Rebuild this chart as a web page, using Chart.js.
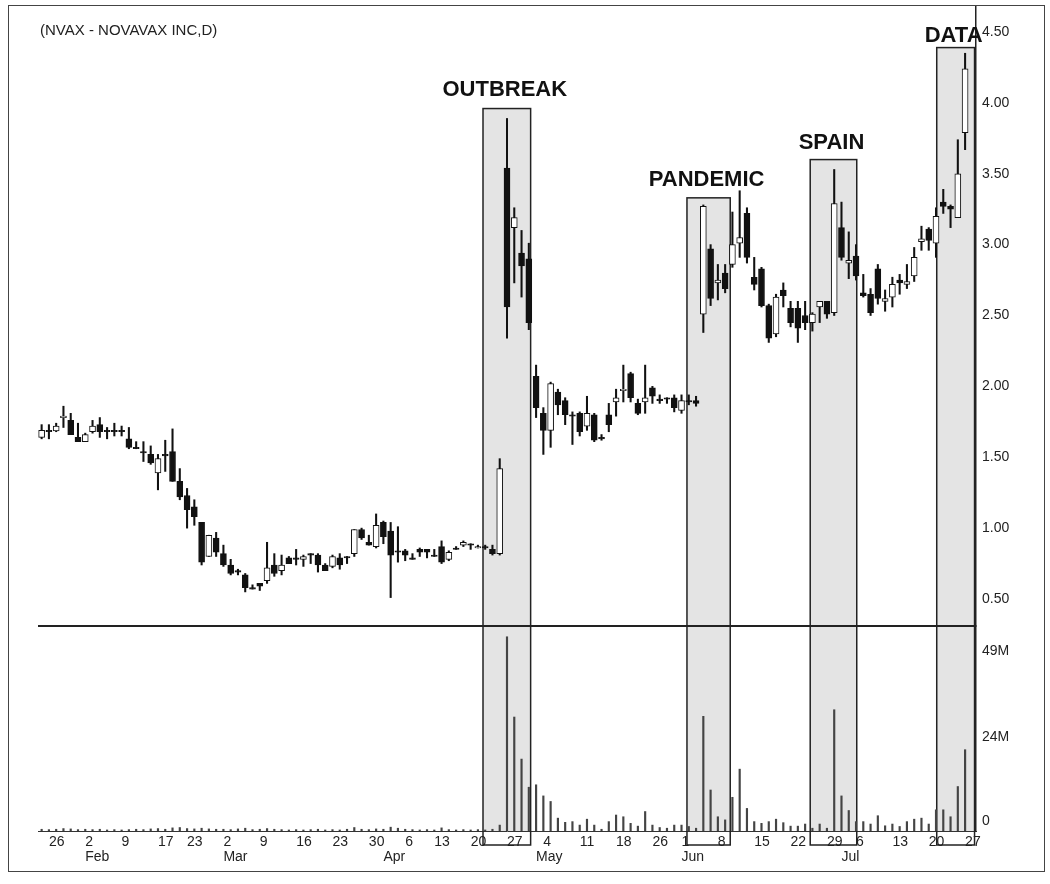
<!DOCTYPE html>
<html>
<head>
<meta charset="utf-8">
<script src="https://cdn.jsdelivr.net/npm/chart.js@4.4.0/dist/chart.umd.min.js"></script>
<style>
  html, body { margin: 0; padding: 0; background: #fff; }
  #wrap { width: 1050px; height: 884px; }
</style>
</head>
<body>
<div id="wrap"><canvas id="nvax" width="1050" height="884"></canvas></div>
<script>
const year = 2009;

// trading days shown on the chart
const dates = [
  "01-23","01-26","01-27","01-28","01-29","01-30",
  "02-02","02-03","02-04","02-05","02-06","02-09","02-10","02-11","02-12","02-13",
  "02-17","02-18","02-19","02-20","02-23","02-24","02-25","02-26","02-27",
  "03-02","03-03","03-04","03-05","03-06","03-09","03-10","03-11","03-12","03-13",
  "03-16","03-17","03-18","03-19","03-20","03-23","03-24","03-25","03-26","03-27","03-30","03-31",
  "04-01","04-02","04-03","04-06","04-07","04-08","04-09","04-13","04-14","04-15","04-16","04-17",
  "04-20","04-21","04-22","04-23","04-24","04-27","04-28","04-29","04-30",
  "05-01","05-04","05-05","05-06","05-07","05-08","05-11","05-12","05-13","05-14","05-15",
  "05-18","05-19","05-20","05-21","05-22","05-26","05-27","05-28","05-29",
  "06-01","06-02","06-03","06-04","06-05","06-08","06-09","06-10","06-11","06-12",
  "06-15","06-16","06-17","06-18","06-19","06-22","06-23","06-24","06-25","06-26","06-29","06-30",
  "07-01","07-02","07-06","07-07","07-08","07-09","07-10","07-13","07-14","07-15","07-16","07-17",
  "07-20","07-21","07-22","07-23","07-24","07-27"
];

const open = [
  1.64,1.69,1.685,1.78,1.76,1.64,1.61,1.68,1.73,1.69,
  1.69,1.69,1.63,1.57,1.54,1.52,1.39,1.52,1.54,1.33,
  1.23,1.15,1.04,0.80,0.93,0.82,0.74,0.70,0.67,0.58,
  0.61,0.63,0.74,0.70,0.79,0.79,0.78,0.82,0.81,0.74,
  0.73,0.79,0.80,0.82,0.99,0.90,0.87,1.04,0.98,0.84,
  0.84,0.79,0.85,0.85,0.81,0.87,0.78,0.86,0.88,0.89,
  0.86,0.87,0.85,0.82,3.54,3.12,2.94,2.90,2.07,1.81,
  1.69,1.96,1.90,1.80,1.81,1.72,1.80,1.64,1.80,1.89,
  1.97,2.09,1.88,1.89,1.99,1.91,1.92,1.92,1.83,1.90,
  1.90,2.51,2.97,2.73,2.80,2.86,3.01,3.22,2.77,2.83,
  2.57,2.37,2.68,2.55,2.55,2.50,2.45,2.56,2.60,2.52,
  3.12,2.87,2.92,2.66,2.65,2.83,2.60,2.63,2.75,2.72,
  2.78,3.02,3.11,3.01,3.30,3.27,3.19,3.79
];
const high = [
  1.73,1.73,1.74,1.86,1.81,1.74,1.67,1.76,1.78,1.71,
  1.74,1.72,1.71,1.61,1.61,1.58,1.52,1.62,1.70,1.42,
  1.28,1.20,1.04,0.95,0.97,0.88,0.78,0.71,0.68,0.60,
  0.61,0.90,0.82,0.81,0.80,0.85,0.81,0.82,0.82,0.75,
  0.81,0.82,0.80,0.99,1.00,0.95,1.10,1.05,1.04,1.01,
  0.85,0.82,0.86,0.85,0.85,0.91,0.84,0.87,0.91,0.89,
  0.88,0.88,0.88,1.49,3.89,3.26,3.10,3.01,2.15,1.85,
  2.03,1.98,1.92,1.82,1.82,1.93,1.81,1.66,1.88,1.98,
  2.15,2.10,1.91,2.15,2.00,1.94,1.92,1.94,1.94,1.94,
  1.93,3.28,3.00,2.86,2.86,3.23,3.38,3.26,2.91,2.84,
  2.58,2.65,2.73,2.60,2.60,2.60,2.52,2.60,2.60,3.53,
  3.30,3.09,3.00,2.79,2.69,2.86,2.68,2.77,2.79,2.86,
  2.98,3.13,3.12,3.26,3.39,3.28,3.74,4.35
];
const low = [
  1.63,1.63,1.68,1.71,1.66,1.61,1.61,1.67,1.64,1.63,
  1.65,1.65,1.56,1.56,1.47,1.45,1.27,1.40,1.33,1.20,
  1.00,1.02,0.74,0.80,0.80,0.73,0.67,0.67,0.55,0.57,
  0.56,0.61,0.66,0.67,0.75,0.74,0.73,0.75,0.69,0.70,
  0.72,0.71,0.75,0.80,0.92,0.88,0.86,0.89,0.51,0.76,
  0.77,0.78,0.80,0.79,0.80,0.75,0.77,0.85,0.87,0.85,
  0.86,0.85,0.81,0.81,2.34,2.73,2.63,2.40,1.78,1.52,
  1.57,1.80,1.73,1.59,1.65,1.69,1.61,1.62,1.68,1.79,
  1.89,1.89,1.80,1.81,1.88,1.88,1.88,1.82,1.81,1.87,
  1.86,2.38,2.57,2.61,2.66,2.84,2.91,2.87,2.68,2.56,
  2.31,2.35,2.56,2.42,2.31,2.40,2.39,2.45,2.48,2.50,
  2.89,2.76,2.75,2.63,2.50,2.58,2.53,2.56,2.65,2.69,
  2.74,2.96,2.96,2.91,3.22,3.12,3.19,3.67
];
const close = [
  1.69,1.68,1.72,1.79,1.66,1.61,1.66,1.72,1.68,1.68,
  1.68,1.68,1.57,1.56,1.53,1.46,1.49,1.51,1.33,1.22,
  1.13,1.08,0.76,0.95,0.83,0.74,0.68,0.69,0.58,0.57,
  0.59,0.72,0.68,0.74,0.75,0.78,0.80,0.81,0.74,0.70,
  0.80,0.74,0.79,0.99,0.93,0.88,1.02,0.94,0.81,0.83,
  0.81,0.78,0.83,0.83,0.80,0.76,0.83,0.85,0.90,0.88,
  0.87,0.86,0.82,1.42,2.56,3.19,2.85,2.45,1.85,1.69,
  2.02,1.87,1.80,1.79,1.68,1.81,1.62,1.63,1.73,1.92,
  1.98,1.92,1.81,1.92,1.93,1.90,1.91,1.85,1.90,1.89,
  1.88,3.27,2.62,2.75,2.69,3.00,3.05,2.91,2.72,2.57,
  2.34,2.63,2.64,2.45,2.41,2.45,2.51,2.60,2.51,3.29,
  2.91,2.89,2.78,2.64,2.52,2.62,2.62,2.72,2.73,2.74,
  2.91,3.04,3.03,3.20,3.27,3.25,3.50,4.24
];
// volume in millions of shares
const volume = [
  0.5,0.4,0.5,0.7,0.6,0.4,0.5,0.4,0.5,0.3,
  0.4,0.3,0.4,0.5,0.4,0.6,0.7,0.5,0.9,1.0,
  0.7,0.6,0.8,0.6,0.5,0.5,0.4,0.6,0.8,0.4,
  0.5,0.7,0.5,0.4,0.3,0.4,0.3,0.4,0.5,0.3,
  0.4,0.3,0.5,1.0,0.5,0.4,0.6,0.5,1.1,0.8,
  0.5,0.4,0.3,0.4,0.3,0.9,0.4,0.3,0.4,0.3,
  0.4,0.3,0.5,1.7,55.9,32.8,20.7,12.6,13.3,10.1,
  8.5,3.7,2.5,2.7,1.7,3.4,1.7,0.5,2.7,4.6,
  4.1,2.2,1.4,5.6,1.7,1.0,0.8,1.7,1.7,1.3,
  0.8,33.0,11.8,4.1,3.2,9.7,17.8,6.5,2.7,2.2,
  2.7,3.4,2.4,1.4,1.4,2.0,0.8,2.0,0.8,34.9,
  10.1,5.9,2.7,2.7,2.0,4.4,1.5,2.0,1.3,2.7,
  3.4,3.7,2.0,6.1,6.1,4.1,12.8,23.4
];

const priceTicks = [0.5, 1, 1.5, 2, 2.5, 3, 3.5, 4, 4.5];
const volumeTicks = [0, 24, 49];
const monthNames = ["Jan","Feb","Mar","Apr","May","Jun","Jul","Aug","Sep","Oct","Nov","Dec"];

// highlighted events: span in trading-day index, box top in price, caption gap in px
const events = [
  { label: "OUTBREAK", from: 60.7, to: 67.25, top: 3.96, gap: 19 },
  { label: "PANDEMIC", from: 88.75, to: 94.7, top: 3.33, gap: 18 },
  { label: "SPAIN", from: 105.7, to: 112.1, top: 3.60, gap: 17 },
  { label: "DATA", from: 123.1, to: 128.3, top: 4.39, gap: 12 }
];

const asDate = d => new Date(year + "-" + d + "T00:00:00Z");

// day number on the first trading day of each week, month name on first of month
const dayLabels = dates.map((d, i) => {
  if (i === 0) return "";
  const cur = asDate(d), prev = asDate(dates[i - 1]);
  return cur.getUTCDay() <= prev.getUTCDay() ? String(cur.getUTCDate()) : "";
});
const monthLabels = dates.map((d, i) => {
  if (i === 0) return "";
  const cur = asDate(d), prev = asDate(dates[i - 1]);
  return cur.getUTCMonth() !== prev.getUTCMonth() ? monthNames[cur.getUTCMonth()] : "";
});

const up = open.map((o, i) => close[i] >= o);

Chart.defaults.font.family = '"Liberation Sans", Arial, sans-serif';
Chart.defaults.color = "#222";

const noPad = s => { s.paddingTop = 0; s.paddingBottom = 0; s.paddingLeft = 0; s.paddingRight = 0; };

const overlay = {
  id: "overlay",
  beforeDraw(chart) {
    const { ctx, chartArea: a, scales: { x, y } } = chart;
    ctx.save();
    ctx.fillStyle = "#fff";
    ctx.fillRect(0, 0, chart.width, chart.height);
    ctx.fillStyle = "#e4e4e4";
    events.forEach(ev => {
      const l = x.getPixelForValue(ev.from), r = x.getPixelForValue(ev.to);
      const t = y.getPixelForValue(ev.top);
      ctx.fillRect(l, t, r - l, a.bottom - t);
    });
    ctx.restore();
  },
  beforeDatasetsDraw(chart) {
    const { ctx, chartArea: a, scales: { x, y } } = chart;
    ctx.save();
    ctx.strokeStyle = "#222";
    ctx.lineWidth = 1.5;
    events.forEach(ev => {
      const l = x.getPixelForValue(ev.from), r = x.getPixelForValue(ev.to);
      const t = y.getPixelForValue(ev.top);
      ctx.strokeRect(l, t, r - l, a.bottom + 14 - t);
    });
    ctx.restore();
  },
  afterDraw(chart) {
    const { ctx, chartArea: a, scales: { x, y, yv } } = chart;
    ctx.save();
    // panel separator
    ctx.strokeStyle = "#222";
    ctx.lineWidth = 2;
    ctx.beginPath();
    ctx.moveTo(a.left, yv.top);
    ctx.lineTo(a.right, yv.top);
    ctx.stroke();
    // event captions
    ctx.fillStyle = "#111";
    ctx.font = 'bold 22px "Liberation Sans", Arial, sans-serif';
    ctx.textAlign = "center";
    ctx.textBaseline = "middle";
    events.forEach(ev => {
      const cx = (x.getPixelForValue(ev.from) + x.getPixelForValue(ev.to)) / 2;
      ctx.fillText(ev.label, cx - 2, y.getPixelForValue(ev.top) - ev.gap);
    });
    // title
    ctx.font = '15px "Liberation Sans", Arial, sans-serif';
    ctx.textAlign = "left";
    ctx.fillStyle = "#222";
    ctx.fillText("(NVAX - NOVAVAX INC,D)", 40, 31);
    // frame
    ctx.strokeStyle = "#444";
    ctx.lineWidth = 1;
    ctx.strokeRect(8.5, 5.5, 1036, 866);
    ctx.restore();
  }
};

new Chart(document.getElementById("nvax"), {
  type: "bar",
  data: {
    labels: [...dates, ""],
    datasets: [
      {
        label: "body",
        data: open.map((o, i) => [o, close[i]]),
        xAxisID: "x", yAxisID: "y",
        backgroundColor: up.map(u => u ? "#fff" : "#111"),
        borderColor: "#111",
        borderWidth: 1,
        borderSkipped: false,
        barThickness: 6,
        grouped: false
      },
      {
        label: "wick",
        data: low.map((l, i) => [l, high[i]]),
        xAxisID: "x", yAxisID: "y",
        backgroundColor: "#111",
        barThickness: 1.4,
        grouped: false
      },
      {
        label: "volume",
        data: volume,
        xAxisID: "x", yAxisID: "yv",
        backgroundColor: "#444",
        barThickness: 1.5,
        grouped: false
      }
    ]
  },
  options: {
    responsive: false,
    animation: false,
    events: [],
    layout: { padding: { left: 38, top: 6, right: 0, bottom: 0 } },
    plugins: { legend: { display: false }, tooltip: { enabled: false } },
    scales: {
      x: {
        type: "category",
        offset: true,
        grid: { display: false, drawTicks: false },
        border: { display: true, color: "#333", width: 1 },
        ticks: {
          autoSkip: false, maxRotation: 0, align: "start", padding: 3,
          font: { size: 14 },
          callback: (v, i) => dayLabels[i] || ""
        },
        afterFit: s => { s.height = 18; noPad(s); }
      },
      xm: {
        type: "category",
        position: "bottom",
        offset: true,
        grid: { display: false, drawTicks: false },
        border: { display: false },
        ticks: {
          autoSkip: false, maxRotation: 0, align: "start", padding: 0,
          font: { size: 14 },
          callback: (v, i) => monthLabels[i] || ""
        },
        afterFit: s => { s.height = 35; noPad(s); }
      },
      y: {
        type: "linear",
        position: "right",
        stack: "panels",
        stackWeight: 620,
        min: 0.3095,
        max: 4.6834,
        grid: { display: false, drawTicks: false },
        border: { display: true, color: "#222", width: 1.5 },
        ticks: { padding: 6, font: { size: 14 }, callback: v => v.toFixed(2) },
        afterBuildTicks: s => { s.ticks = priceTicks.map(v => ({ value: v })); },
        afterFit: s => { s.width = 74; noPad(s); }
      },
      yv: {
        type: "linear",
        position: "right",
        stack: "panels",
        stackWeight: 205,
        min: 0,
        max: 59,
        grid: { display: false, drawTicks: false },
        border: { display: true, color: "#222", width: 1.5 },
        ticks: { padding: 6, labelOffset: -10, font: { size: 14 }, callback: v => v === 0 ? "0" : v + "M" },
        afterBuildTicks: s => { s.ticks = volumeTicks.map(v => ({ value: v })); },
        afterFit: s => { s.width = 74; noPad(s); }
      }
    }
  },
  plugins: [overlay]
});
</script>
</body>
</html>
